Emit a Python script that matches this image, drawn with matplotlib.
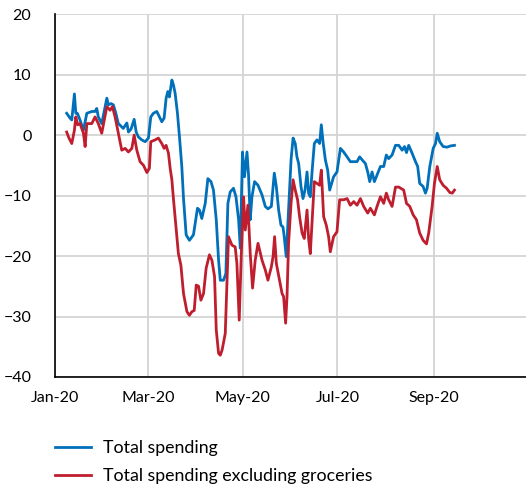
import matplotlib
matplotlib.use("Agg")
import matplotlib.pyplot as plt
import matplotlib.dates as mdates
from datetime import datetime

# jours depuis le 1er janvier 2020 / valeurs
jours_total = [7.5, 9.7, 10.8, 12.5, 13.4, 14.4, 16.1, 18.3, 20.5, 23.7, 25.8, 26.9, 27.9, 30.1,
               33.4, 34.4, 36.1, 37.6, 39.2, 40.8, 42.0, 44.0, 46.3, 47.3, 49.0, 51.0, 52.3, 53.7,
               55.9, 58.1, 60.2, 61.7, 63.4, 65.6, 67.3, 68.8, 70.3, 71.6, 72.7, 73.7, 75.3, 76.3,
               77.4, 78.9, 80.2, 81.7, 82.8, 84.5, 86.6, 89.2, 90.3, 91.8, 93.1, 94.6, 96.8, 98.5,
               100.5, 102.1, 103.9, 105.4, 106.5, 108.6, 110.1, 111.4, 112.9, 115.0, 116.6, 118.3,
               119.4, 120.8, 122.1, 123.7, 124.7, 125.8, 126.9, 128.6, 130.8, 133.4, 135.5, 137.2,
               139.4, 141.3, 142.6, 144.1, 145.6, 146.9, 147.7, 149.0, 150.5, 152.1, 153.4, 154.8,
               155.9, 157.0, 158.5, 159.8, 161.1, 162.4, 163.4, 164.5, 165.8, 167.1, 168.8, 170.5,
               171.6, 172.7, 174.2, 175.7, 177.0, 179.5, 181.7, 183.9, 186.0, 188.2, 190.3, 192.5,
               194.6, 196.3, 197.9, 200.0, 201.5, 202.8, 204.3, 205.8, 207.5, 209.7, 211.8, 213.5,
               215.0, 217.2, 219.4, 221.5, 223.7, 225.2, 226.5, 227.9, 230.1, 232.3, 233.7, 235.0,
               237.2, 238.7, 239.8, 241.5, 243.7, 245.2, 246.3, 247.9, 250.1, 252.7, 254.8, 257.4]
total = [3.6, 2.8, 2.5, 6.8, 3.6, 3.6, 2.5, 0.8, 3.6, 3.9, 3.9, 4.4, 3.0, 1.9,
         6.1, 5.0, 5.2, 5.0, 3.6, 1.9, 1.6, 1.1, 2.0, 0.5, 1.0, 2.6, 0.5, -0.3,
         -0.8, -1.1, -0.5, 3.0, 3.6, 3.9, 3.0, 2.2, 2.8, 6.1, 7.2, 6.3, 9.1, 8.3,
         6.9, 3.6, -0.3, -5.2, -10.5, -16.5, -17.4, -16.5, -14.6, -12.1, -12.4, -13.8, -11.3, -7.2,
         -7.7, -9.1, -14.0, -20.7, -24.0, -24.0, -22.9, -11.3, -9.4, -8.8, -10.2, -14.0,
         -18.7, -2.8, -6.9, -2.8, -6.6, -14.0, -10.2, -7.7, -8.3, -9.9, -11.8, -12.2,
         -11.8, -6.3, -8.5, -12.4, -14.9, -15.2, -16.8, -20.1, -12.4, -4.1, -0.5, -1.4,
         -3.6, -4.7, -8.5, -10.5, -9.1, -6.1, -9.6, -10.2, -5.5, -1.4, -0.8, -1.4,
         1.7, -1.1, -4.1, -5.8, -9.1, -6.9, -6.1, -2.2, -2.8, -3.6, -4.4, -4.4,
         -4.4, -3.6, -4.1, -4.7, -6.1, -7.7, -6.1, -7.7, -6.6, -5.2, -5.2, -3.3,
         -3.9, -3.3, -1.7, -1.7, -2.5, -1.9, -2.9, -1.7, -3.0, -4.4, -5.2, -8.0,
         -8.5, -9.6, -8.8, -5.2, -2.2, -1.4, 0.3, -1.1, -1.9, -2.0, -1.8, -1.7]

jours_hors_alim = [7.5, 9.0, 10.8, 12.5, 13.4, 14.6, 16.1, 18.3, 19.4, 20.5, 23.7, 25.8, 27.9, 30.1,
                   33.4, 35.5, 37.0, 38.7, 40.8, 43.0, 45.2, 47.3, 49.5, 51.0, 52.7, 54.8, 57.0,
                   59.2, 60.8, 61.7, 64.5, 66.6, 68.8, 70.3, 71.6, 73.1, 74.2, 75.3, 76.3, 79.5,
                   81.1, 82.8, 85.0, 86.6, 88.2, 89.7, 91.0, 92.5, 94.0, 95.7, 97.4, 99.5, 101.1,
                   102.8, 103.9, 105.4, 106.5, 107.7, 109.7, 111.8, 114.0, 116.1, 117.2, 118.7,
                   120.0, 121.5, 122.6, 124.3, 125.8, 127.3, 129.0, 130.8, 133.4, 135.5, 137.2,
                   139.4, 140.5, 141.5, 142.6, 144.7, 146.3, 147.3, 148.6, 149.5, 150.5, 152.1,
                   153.4, 154.8, 156.3, 157.6, 159.2, 160.6, 162.4, 163.4, 164.5, 165.6, 167.1,
                   168.8, 170.5, 171.6, 173.1, 174.8, 176.3, 177.4, 179.5, 181.7, 183.4, 186.0,
                   188.2, 190.3, 192.5, 194.6, 196.8, 198.9, 201.5, 203.2, 205.8, 207.5, 209.7,
                   211.8, 213.5, 215.0, 217.2, 219.4, 221.5, 224.7, 226.5, 228.6, 230.8, 232.9,
                   235.0, 237.2, 239.4, 240.8, 243.0, 244.5, 246.3, 247.9, 250.1, 252.3, 254.4,
                   256.0, 257.4]
hors_alim = [0.5, -0.5, -1.4, 0.8, 3.0, 1.7, 1.9, 0.3, -1.9, 1.9, 1.9, 3.0, 1.9, 0.3,
             4.7, 4.1, 4.7, 3.0, 0.3, -2.5, -2.2, -2.8, -2.2, 0.0, -2.5, -4.4, -5.0,
             -6.2, -5.5, -1.1, -0.8, -0.5, -1.4, -2.2, -1.7, -3.0, -5.5, -7.4, -10.5, -19.6,
             -21.5, -26.2, -29.2, -29.8, -29.2, -29.0, -24.8, -25.0, -27.3, -26.2, -22.0, -19.8, -20.7,
             -23.4, -32.2, -36.1, -36.4, -35.5, -32.8, -16.8, -18.2, -18.5, -21.2, -30.6,
             -20.0, -10.2, -15.7, -11.6, -19.6, -25.3, -20.7, -17.9, -20.7, -22.3, -24.0,
             -21.8, -20.1, -16.8, -21.2, -24.0, -26.2, -26.7, -31.1, -26.7, -17.9, -11.3,
             -7.4, -9.1, -10.7, -13.5, -16.2, -17.1, -12.4, -17.1, -19.6, -14.6, -7.7,
             -8.0, -8.3, -5.8, -13.5, -14.9, -16.8, -19.3, -16.8, -16.0, -10.7, -10.7,
             -10.5, -11.6, -11.0, -11.6, -10.5, -11.8, -12.9, -12.1, -13.2, -11.8, -10.2,
             -11.3, -9.6, -10.7, -11.8, -8.6, -8.6, -9.1, -11.3, -11.8, -13.2, -14.0,
             -16.2, -17.4, -18.0, -16.2, -11.8, -8.0, -5.2, -7.4, -8.3, -8.8, -9.5,
             -9.6, -9.1]

etiquettes_mois = ["Jan-20", "Mar-20", "May-20", "Jul-20", "Sep-20"]
dates_mois = [datetime(2020, 1, 1), datetime(2020, 3, 1), datetime(2020, 5, 1),
              datetime(2020, 7, 1), datetime(2020, 9, 1)]

plt.rcParams['font.family'] = ['Lato', 'DejaVu Sans']

origine = mdates.date2num(datetime(2020, 1, 1))
x_total = [origine + j for j in jours_total]
x_hors = [origine + j for j in jours_hors_alim]

fig = plt.figure(figsize=(5.26, 4.86), dpi=100)
ax = fig.add_axes([0.1046, 0.2243, 0.8954, 0.7467])

ax.plot(x_total, total, color='#0070BA', lw=2.0, label='Total spending')
ax.plot(x_hors, hors_alim, color='#BE1E2D', lw=2.0, label='Total spending excluding groceries')

ax.set_ylim(-40, 20)
ax.set_yticks(range(-40, 21, 10))
ax.set_xlim(origine, origine + 303.5)
ax.set_xticks([mdates.date2num(d) for d in dates_mois])
ax.set_xticklabels(etiquettes_mois)

ax.grid(True, color='#D4D4D4', lw=1.3)
ax.set_axisbelow(True)
for s in ['top', 'right']:
    ax.spines[s].set_visible(False)
for s in ['left', 'bottom']:
    ax.spines[s].set_color('black')
    ax.spines[s].set_linewidth(1.2)
ax.tick_params(length=0, labelsize=11.5, colors='black')
ax.tick_params(axis='y', pad=17)
ax.tick_params(axis='x', pad=10)

fig.legend(loc='upper left', bbox_to_anchor=(0.1046, 0.094), frameon=False, fontsize=12.8,
           handlelength=2.0, handletextpad=0.72, labelspacing=0.66, borderaxespad=0,
           borderpad=0)

fig.savefig('out.png', dpi=100)
